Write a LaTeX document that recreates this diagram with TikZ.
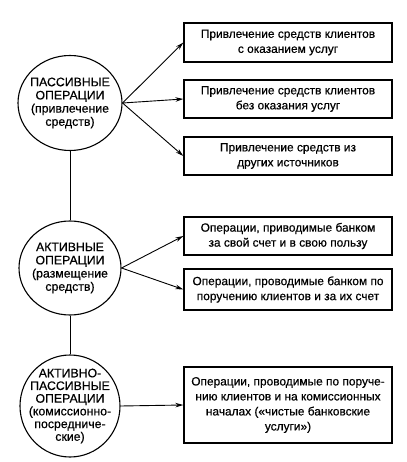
\documentclass[tikz,border=0pt]{standalone}
\usepackage{fontspec}
\setmainfont{Liberation Sans}[FakeBold=0.5]
\usetikzlibrary{shapes.geometric,arrows.meta}
\tikzset{
  circ/.style={ellipse,draw,line width=1.1pt,inner sep=0pt},
  ctext/.style={align=center,font=\fontsize{12.3}{13.2}\selectfont,inner sep=0pt},
  box/.style={rectangle,draw,line width=1.3pt,minimum width=208pt,align=center,
    font=\fontsize{11.9}{15}\selectfont,inner sep=2pt},
  arr/.style={line width=0.9pt,-{Stealth[length=8pt,width=4.5pt]}},
  link/.style={line width=0.9pt}
}
\begin{document}
\begin{tikzpicture}[x=1pt,y=-1pt]
\useasboundingbox (0,0) rectangle (406,462);
% circles
\node[circ,minimum width=104pt,minimum height=95pt] (c1) at (70,103) {};
\node[ctext] (t1) at (c1) {ПАССИВНЫЕ\\ОПЕРАЦИИ\\(привлечение\\средств)};
\node[circ,minimum width=102pt,minimum height=94pt] (c2) at (70,268) {};
\node[ctext] (t2) at (c2) {АКТИВНЫЕ\\ОПЕРАЦИИ\\(размещение\\средств)};
\node[circ,minimum width=100pt,minimum height=102pt] (c3) at (70,406) {};
\node[ctext,font=\fontsize{12.3}{12.7}\selectfont] (t3) at (c3) {АКТИВНО-\\ПАССИВНЫЕ\\ОПЕРАЦИИ\\(комиссионно-\\посредниче-\\ские)};
% boxes
\node[box,minimum height=39pt] (b1) at (288,42.5) {Привлечение средств клиентов\\с оказанием услуг};
\node[box,minimum height=38pt] (b2) at (288,99) {Привлечение средств клиентов\\без оказания услуг};
\node[box,minimum height=38pt] (b3) at (288,156) {Привлечение средств из\\других источников};
\node[box,minimum height=38pt] (b4) at (288,236) {Операции, приводимые банком\\за свой счет и в свою пользу};
\node[box,minimum height=41pt] (b5) at (288,289.5) {Операции, проводимые банком по\\поручению клиентов и за их счет};
\node[box,minimum height=76pt] (b6) at (288,405) {Операции, проводимые по поруче-\\нию клиентов и на комиссионных\\началах («чистые банковские\\услуги»)};
% connectors
\draw[link] (c1.south) -- (c2.north);
\draw[link] (c2.south) -- (c3.north);
\draw[arr] (c1.east) -- (b1.west);
\draw[arr] (c1.east) -- (b2.west);
\draw[arr] (c1.east) -- (b3.west);
\draw[arr] (c2.east) -- (b4.west);
\draw[arr] (c2.east) -- (b5.west);
\draw[arr] (c3.east) -- (b6.west);
\end{tikzpicture}
\end{document}
